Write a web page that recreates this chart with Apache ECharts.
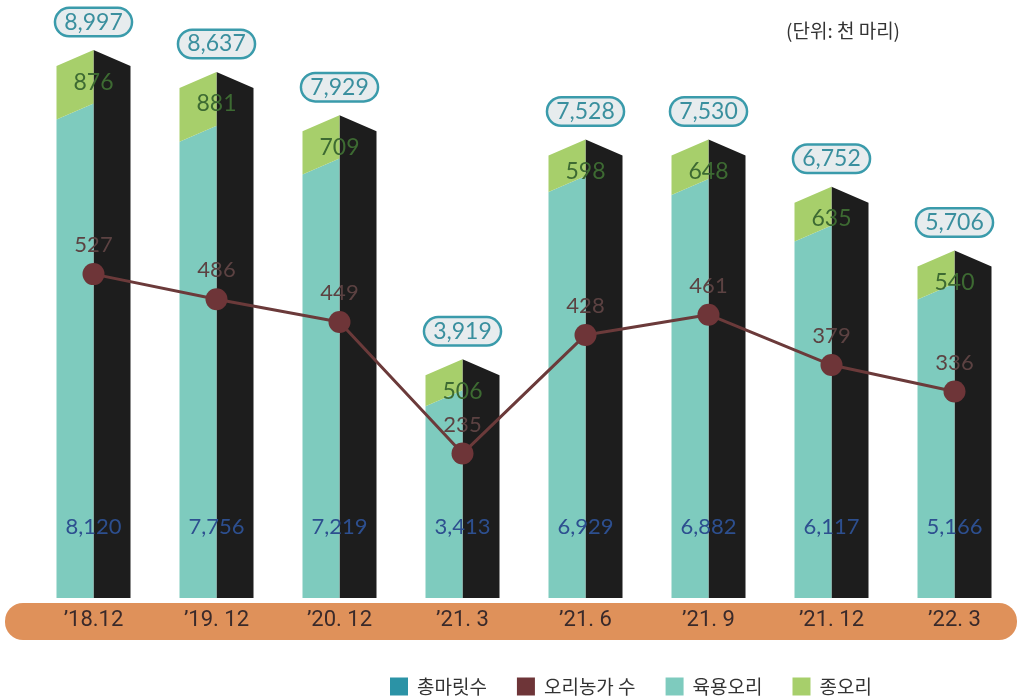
<!DOCTYPE html>
<html><head><meta charset="utf-8">
<script src="https://cdn.jsdelivr.net/npm/echarts@6/dist/echarts.min.js"></script>
<style>html,body{margin:0;padding:0;background:#fff}#c{width:1021px;height:697px}</style>
</head><body><div id="c"></div>
<script>
const categories = ["’18.12", "’19. 12", "’20. 12", "’21. 3", "’21. 6", "’21. 9", "’21. 12", "’22. 3"];
const totalHeads = [8997, 8637, 7929, 3919, 7528, 7530, 6752, 5706];
const broilerDucks = [8120, 7756, 7219, 3413, 6929, 6882, 6117, 5166];
const breederDucks = [876, 881, 709, 506, 598, 648, 635, 540];
const farms = [527, 486, 449, 235, 428, 461, 379, 336];

const fmt = v => v.toLocaleString('en-US');
const W = 37, D = 16;
const NUM_FONT = 'Lato, Roboto, sans-serif';
const KR_FONT = '"Noto Sans CJK KR", sans-serif';

const rows = categories.map((c, i) => [i, broilerDucks[i], breederDucks[i], totalHeads[i]]);

function pts(api) {
  const i = api.value(0);
  const teal = api.value(1), tot = api.value(3);
  const pB = api.coord([i, 0]);
  return { cx: pB[0], base: pB[1], yT: api.coord([i, teal])[1], yTot: api.coord([i, tot])[1], i };
}

const chart = echarts.init(document.getElementById('c'));
chart.setOption({
  animation: false,
  grid: { left: 32, right: 5, top: 0, bottom: 99, containLabel: false },
  legend: {
    data: ['총마릿수', '오리농가 수', '육용오리', '종오리'],
    left: 385, top: 672, icon: 'rect', itemWidth: 18, itemHeight: 18, itemGap: 30,
    textStyle: { fontFamily: KR_FONT, fontSize: 19, color: '#333', padding: [0, 0, 0, 4] }
  },
  xAxis: {
    type: 'category', data: categories,
    axisLine: { show: false }, axisTick: { show: false },
    axisLabel: { margin: 11, fontSize: 22, color: '#3a2a2a', fontFamily: 'Roboto, sans-serif' }
  },
  yAxis: [
    { type: 'value', min: 0, max: 9820, show: false, splitLine: { show: false } },
    { type: 'value', min: 0, max: 973, show: false, splitLine: { show: false } }
  ],
  graphic: [
    { type: 'rect', z: -1, shape: { x: 5, y: 603, width: 1012, height: 37, r: 18 }, style: { fill: '#df915a' } },
    { type: 'text', left: 786, top: 21, style: { text: '(단위: 천 마리)', font: '19px "Noto Sans CJK KR", sans-serif', fill: '#333' } }
  ],
  series: [
    {
      name: '총마릿수', type: 'custom', z: 1, itemStyle: { color: '#2b93a6' },
      data: rows, encode: { x: 0, y: 3 },
      renderItem: (params, api) => {
        const g = pts(api);
        return { type: 'group', children: [
          { type: 'polygon', shape: { points: [[g.cx, g.yTot], [g.cx + W, g.yTot + D], [g.cx + W, g.base], [g.cx, g.base]] }, style: { fill: '#1d1d1d' } },
          { type: 'text', z2: 10, x: g.cx, y: g.yTot - 28, style: {
            text: fmt(totalHeads[g.i]), align: 'center', verticalAlign: 'middle',
            font: '23px ' + NUM_FONT, fill: '#3a8f9e', backgroundColor: '#e7ecee',
            borderColor: '#3a9bab', borderWidth: 2.5, borderRadius: 15, padding: [2, 8, 1, 8] } }
        ] };
      }
    },
    {
      name: '오리농가 수', type: 'line', yAxisIndex: 1, z: 5, data: farms,
      symbol: 'circle', symbolSize: 22, itemStyle: { color: '#6e3538' },
      lineStyle: { color: '#6b3a3a', width: 3 },
      label: { show: true, position: 'top', distance: 7, fontSize: 22, fontFamily: NUM_FONT, color: '#5c4242' }
    },
    {
      name: '육용오리', type: 'custom', z: 2, itemStyle: { color: '#7ecbbe' },
      data: rows, encode: { x: 0, y: 1 },
      renderItem: (params, api) => {
        const g = pts(api);
        return { type: 'group', children: [
          { type: 'polygon', shape: { points: [[g.cx - W, g.base], [g.cx - W, g.yT + D], [g.cx, g.yT], [g.cx, g.base]] }, style: { fill: '#7ecbbe' } },
          { type: 'text', z2: 10, x: g.cx, y: g.base - 71, style: { text: fmt(broilerDucks[g.i]), align: 'center', verticalAlign: 'middle', font: '22px ' + NUM_FONT, fill: '#2d4f8f' } }
        ] };
      }
    },
    {
      name: '종오리', type: 'custom', z: 2, itemStyle: { color: '#a7cf6b' },
      data: rows, encode: { x: 0, y: 3 },
      renderItem: (params, api) => {
        const g = pts(api);
        return { type: 'group', children: [
          { type: 'polygon', shape: { points: [[g.cx - W, g.yT + D], [g.cx - W, g.yTot + D], [g.cx, g.yTot], [g.cx, g.yT]] }, style: { fill: '#a7cf6b' } },
          { type: 'text', z2: 10, x: g.cx, y: g.yTot + 32, style: { text: fmt(breederDucks[g.i]), align: 'center', verticalAlign: 'middle', font: '23px ' + NUM_FONT, fill: '#3d6a32' } }
        ] };
      }
    }
  ]
});
</script>
</body></html>
